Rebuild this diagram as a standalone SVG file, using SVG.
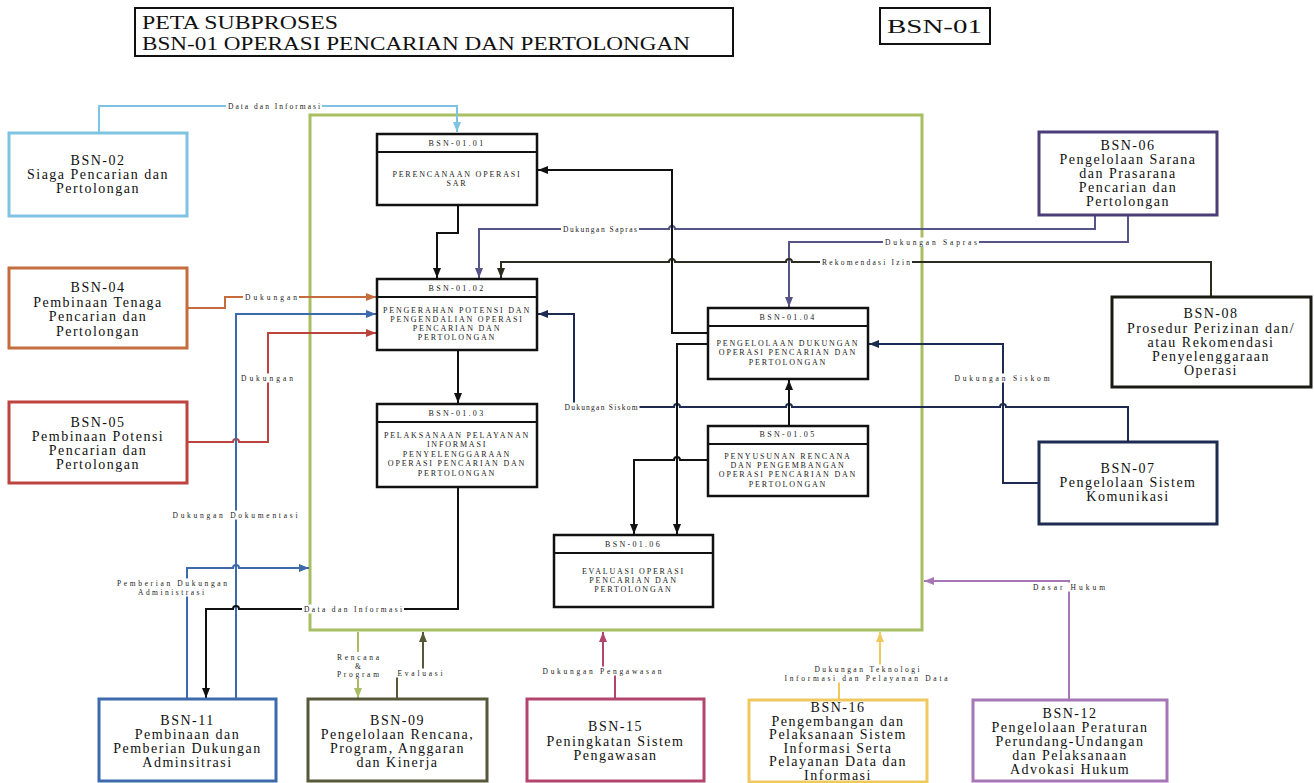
<svg xmlns="http://www.w3.org/2000/svg" width="1314" height="783" viewBox="0 0 1314 783">
<style>
.bg{fill:#fff}
.title{font-family:"Liberation Serif",serif;font-size:18px;fill:#111}
.ext{fill:#fff;stroke-width:3}
.ntx{font-family:"Liberation Serif",serif;font-size:14px;fill:#111;text-anchor:middle;letter-spacing:1.5px}
.in{fill:#fff;stroke:#111;stroke-width:2.5}
.hl{stroke:#111;stroke-width:2}
.itx{font-family:"Liberation Serif",serif;font-size:8px;fill:#222;text-anchor:middle;letter-spacing:1.8px}
.ihd{font-family:"Liberation Serif",serif;font-size:8px;fill:#222;text-anchor:middle;letter-spacing:2.3px}
.c{fill:none;stroke-width:2;stroke-linejoin:miter}
.lb{fill:#fff}
.lbl{font-family:"Liberation Serif",serif;font-size:7.5px;fill:#222;text-anchor:middle}
</style>
<defs>
<marker id="a-black" viewBox="0 0 10 8" refX="10" refY="4" markerWidth="10" markerHeight="8" markerUnits="userSpaceOnUse" orient="auto"><path d="M0,0 L10,4 L0,8 Z" fill="#111"/></marker>
<marker id="a-lblue" viewBox="0 0 10 8" refX="10" refY="4" markerWidth="10" markerHeight="8" markerUnits="userSpaceOnUse" orient="auto"><path d="M0,0 L10,4 L0,8 Z" fill="#7ec3e2"/></marker>
<marker id="a-orange" viewBox="0 0 10 8" refX="10" refY="4" markerWidth="10" markerHeight="8" markerUnits="userSpaceOnUse" orient="auto"><path d="M0,0 L10,4 L0,8 Z" fill="#c46c3e"/></marker>
<marker id="a-red" viewBox="0 0 10 8" refX="10" refY="4" markerWidth="10" markerHeight="8" markerUnits="userSpaceOnUse" orient="auto"><path d="M0,0 L10,4 L0,8 Z" fill="#bc433e"/></marker>
<marker id="a-blue" viewBox="0 0 10 8" refX="10" refY="4" markerWidth="10" markerHeight="8" markerUnits="userSpaceOnUse" orient="auto"><path d="M0,0 L10,4 L0,8 Z" fill="#3d69ad"/></marker>
<marker id="a-lgreen" viewBox="0 0 10 8" refX="10" refY="4" markerWidth="10" markerHeight="8" markerUnits="userSpaceOnUse" orient="auto"><path d="M0,0 L10,4 L0,8 Z" fill="#a7bf62"/></marker>
<marker id="a-olive" viewBox="0 0 10 8" refX="10" refY="4" markerWidth="10" markerHeight="8" markerUnits="userSpaceOnUse" orient="auto"><path d="M0,0 L10,4 L0,8 Z" fill="#57583a"/></marker>
<marker id="a-crimson" viewBox="0 0 10 8" refX="10" refY="4" markerWidth="10" markerHeight="8" markerUnits="userSpaceOnUse" orient="auto"><path d="M0,0 L10,4 L0,8 Z" fill="#b2456d"/></marker>
<marker id="a-yellow" viewBox="0 0 10 8" refX="10" refY="4" markerWidth="10" markerHeight="8" markerUnits="userSpaceOnUse" orient="auto"><path d="M0,0 L10,4 L0,8 Z" fill="#efc95f"/></marker>
<marker id="a-purple" viewBox="0 0 10 8" refX="10" refY="4" markerWidth="10" markerHeight="8" markerUnits="userSpaceOnUse" orient="auto"><path d="M0,0 L10,4 L0,8 Z" fill="#a676b6"/></marker>
<marker id="a-slate" viewBox="0 0 10 8" refX="10" refY="4" markerWidth="10" markerHeight="8" markerUnits="userSpaceOnUse" orient="auto"><path d="M0,0 L10,4 L0,8 Z" fill="#545487"/></marker>
<marker id="a-dark" viewBox="0 0 10 8" refX="10" refY="4" markerWidth="10" markerHeight="8" markerUnits="userSpaceOnUse" orient="auto"><path d="M0,0 L10,4 L0,8 Z" fill="#2b2b1e"/></marker>
<marker id="a-navy" viewBox="0 0 10 8" refX="10" refY="4" markerWidth="10" markerHeight="8" markerUnits="userSpaceOnUse" orient="auto"><path d="M0,0 L10,4 L0,8 Z" fill="#1d2a52"/></marker>
</defs>
<rect class="bg" x="0" y="0" width="1314" height="783"/>

<g id="title">
<rect x="135" y="8" width="598" height="48" fill="#fff" stroke="#111" stroke-width="2"/>
<text class="title" x="142" y="29" textLength="196" lengthAdjust="spacingAndGlyphs">PETA SUBPROSES</text>
<text class="title" x="142" y="50" textLength="548" lengthAdjust="spacingAndGlyphs">BSN-01 OPERASI PENCARIAN DAN PERTOLONGAN</text>
</g>
<g id="code">
<rect x="880" y="8" width="110" height="36" fill="#fff" stroke="#111" stroke-width="2"/>
<text class="title" x="887" y="33" font-size="19" textLength="95" lengthAdjust="spacingAndGlyphs">BSN-01</text>
</g>

<g id="frame">
<rect x="310" y="115" width="612" height="515" fill="none" stroke="#a7bf62" stroke-width="3"/>
</g>

<g id="connectors">
<path class="c" stroke="#7ec3e2" d="M99,133 V106 H457 V132" marker-end="url(#a-lblue)"/>
<path class="c" stroke="#c46c3e" d="M187,308 H225 V297 H376" marker-end="url(#a-orange)"/>
<path class="c" stroke="#bc433e" d="M187,442 H233 a3,3 0 0 1 6,0 H268 V333 H376" marker-end="url(#a-red)"/>
<path class="c" stroke="#3d69ad" d="M236,699 V314 H376" marker-end="url(#a-blue)"/>
<path class="c" stroke="#3d69ad" d="M187,699 V568 H233 a3,3 0 0 1 6,0 H309" marker-end="url(#a-blue)"/>
<path class="c" stroke="#111" d="M458,487 V609 H239 a3,3 0 0 0 -6,0 H206 V698" marker-end="url(#a-black)"/>
<path class="c" stroke="#a7bf62" d="M358,632 V698" marker-end="url(#a-lgreen)"/>
<path class="c" stroke="#57583a" stroke-width="2.5" d="M397,699 V673 H423 V632" marker-end="url(#a-olive)"/>
<path class="c" stroke="#b2456d" d="M615,699 V671 H603 V632" marker-end="url(#a-crimson)"/>
<path class="c" stroke="#efc95f" d="M839,700 V674 H880 V632" marker-end="url(#a-yellow)"/>
<path class="c" stroke="#a676b6" d="M1069,700 V581 H924" marker-end="url(#a-purple)"/>
<path class="c" stroke="#545487" d="M1095,215 V229 H675 a3,3 0 0 0 -6,0 H479 V278" marker-end="url(#a-slate)"/>
<path class="c" stroke="#545487" d="M1128,215 V242 H789 V307" marker-end="url(#a-slate)"/>
<path class="c" stroke="#2b2b1e" d="M1211,297 V262 H792 a3,3 0 0 0 -6,0 H675 a3,3 0 0 0 -6,0 H501 V278" marker-end="url(#a-dark)"/>
<path class="c" stroke="#1d2a52" d="M1128,442 V407 H1006 a3,3 0 0 0 -6,0 H792 a3,3 0 0 0 -6,0 H680 a3,3 0 0 0 -6,0 H574 V314 H538" marker-end="url(#a-navy)"/>
<path class="c" stroke="#1d2a52" d="M1039,483 H1003 V344 H869" marker-end="url(#a-navy)"/>
<path class="c" stroke="#111" d="M458,205 V233 H437 V278" marker-end="url(#a-black)"/>
<path class="c" stroke="#111" d="M458,350 V403" marker-end="url(#a-black)"/>
<path class="c" stroke="#111" d="M708,333 H672 V170 H538" marker-end="url(#a-black)"/>
<path class="c" stroke="#111" d="M708,344 H677 V534" marker-end="url(#a-black)"/>
<path class="c" stroke="#111" d="M708,460 H680 a3,3 0 0 0 -6,0 H634 V534" marker-end="url(#a-black)"/>
<path class="c" stroke="#111" d="M789,426 V380" marker-end="url(#a-black)"/>

<rect class="lb" x="226" y="101.5" width="96" height="9"/>
<rect class="lb" x="243" y="292.5" width="56" height="9"/>
<rect class="lb" x="239" y="373.5" width="56" height="9"/>
<rect class="lb" x="170.5" y="510.5" width="129" height="9"/>
<rect class="lb" x="115" y="578.5" width="114" height="18"/>
<rect class="lb" x="302" y="604.5" width="102" height="9"/>
<rect class="lb" x="335" y="652" width="46" height="27"/>
<rect class="lb" x="395.5" y="668.5" width="49" height="9"/>
<rect class="lb" x="540.5" y="666.5" width="123" height="9"/>
<rect class="lb" x="782.5" y="664.5" width="167" height="18"/>
<rect class="lb" x="1031" y="582.5" width="76" height="9"/>
<rect class="lb" x="561" y="224.5" width="78" height="9"/>
<rect class="lb" x="883" y="237.5" width="96" height="9"/>
<rect class="lb" x="820" y="257.5" width="92" height="9"/>
<rect class="lb" x="562.5" y="402.5" width="77" height="9"/>
<rect class="lb" x="952.5" y="373.5" width="99" height="9"/>

<text class="lbl" x="274" y="108.5" textLength="92" lengthAdjust="spacing">Data dan Informasi</text>
<text class="lbl" x="271" y="299.5" textLength="52" lengthAdjust="spacing">Dukungan</text>
<text class="lbl" x="267" y="380.5" textLength="52" lengthAdjust="spacing">Dukungan</text>
<text class="lbl" x="235" y="517.5" textLength="125" lengthAdjust="spacing">Dukungan Dokumentasi</text>
<text class="lbl" x="172" y="585.5" textLength="110" lengthAdjust="spacing">Pemberian Dukungan</text>
<text class="lbl" x="171" y="594.5" textLength="66" lengthAdjust="spacing">Administrasi</text>
<text class="lbl" x="353" y="611.5" textLength="98" lengthAdjust="spacing">Data dan Informasi</text>
<text class="lbl" x="358" y="659.5" textLength="42" lengthAdjust="spacing">Rencana</text>
<text class="lbl" x="358" y="668.5">&amp;</text>
<text class="lbl" x="358" y="677" textLength="42" lengthAdjust="spacing">Program</text>
<text class="lbl" x="420" y="675.5" textLength="45" lengthAdjust="spacing">Evaluasi</text>
<text class="lbl" x="602" y="673.5" textLength="119" lengthAdjust="spacing">Dukungan Pengawasan</text>
<text class="lbl" x="867" y="671.5" textLength="105" lengthAdjust="spacing">Dukungan Teknologi</text>
<text class="lbl" x="866" y="680.5" textLength="163" lengthAdjust="spacing">Informasi dan Pelayanan Data</text>
<text class="lbl" x="1069" y="589.5" textLength="72" lengthAdjust="spacing">Dasar Hukum</text>
<text class="lbl" x="600" y="231.5" textLength="74" lengthAdjust="spacing">Dukungan Sapras</text>
<text class="lbl" x="931" y="244.5" textLength="92" lengthAdjust="spacing">Dukungan Sapras</text>
<text class="lbl" x="866" y="264.5" textLength="88" lengthAdjust="spacing">Rekomendasi Izin</text>
<text class="lbl" x="601" y="409.5" textLength="73" lengthAdjust="spacing">Dukungan Siskom</text>
<text class="lbl" x="1002" y="380.5" textLength="95" lengthAdjust="spacing">Dukungan Siskom</text>
</g>

<g id="BSN-02">
<rect class="ext" x="9" y="133" width="178" height="83" stroke="#7ec3e2"/>
<text class="ntx" x="98" y="165">BSN-02</text>
<text class="ntx" x="98" y="179">Siaga Pencarian dan</text>
<text class="ntx" x="98" y="193">Pertolongan</text>
</g>
<g id="BSN-04">
<rect class="ext" x="9" y="268" width="178" height="80" stroke="#c46c3e"/>
<text class="ntx" x="98" y="292">BSN-04</text>
<text class="ntx" x="98" y="307">Pembinaan Tenaga</text>
<text class="ntx" x="98" y="321">Pencarian dan</text>
<text class="ntx" x="98" y="336">Pertolongan</text>
</g>
<g id="BSN-05">
<rect class="ext" x="9" y="402" width="178" height="81" stroke="#bc433e"/>
<text class="ntx" x="98" y="427">BSN-05</text>
<text class="ntx" x="98" y="441">Pembinaan Potensi</text>
<text class="ntx" x="98" y="455">Pencarian dan</text>
<text class="ntx" x="98" y="469">Pertolongan</text>
</g>
<g id="BSN-11">
<rect class="ext" x="99" y="699" width="177" height="82" stroke="#3d69ad"/>
<text class="ntx" x="187.5" y="725">BSN-11</text>
<text class="ntx" x="187.5" y="739">Pembinaan dan</text>
<text class="ntx" x="187.5" y="753">Pemberian Dukungan</text>
<text class="ntx" x="187.5" y="767">Adminsitrasi</text>
</g>
<g id="BSN-09">
<rect class="ext" x="308" y="699" width="179" height="82" stroke="#57583a" stroke-width="3.5"/>
<text class="ntx" x="397.5" y="725">BSN-09</text>
<text class="ntx" x="397.5" y="739">Pengelolaan Rencana,</text>
<text class="ntx" x="397.5" y="753">Program, Anggaran</text>
<text class="ntx" x="397.5" y="767">dan Kinerja</text>
</g>
<g id="BSN-15">
<rect class="ext" x="527" y="699" width="177" height="82" stroke="#b2456d"/>
<text class="ntx" x="615.5" y="731">BSN-15</text>
<text class="ntx" x="615.5" y="746">Peningkatan Sistem</text>
<text class="ntx" x="615.5" y="760">Pengawasan</text>
</g>
<g id="BSN-16">
<rect class="ext" x="749" y="700" width="178" height="82" stroke="#efc95f"/>
<text class="ntx" x="838" y="712" font-size="13">BSN-16</text>
<text class="ntx" x="838" y="725.5" font-size="13">Pengembangan dan</text>
<text class="ntx" x="838" y="739" font-size="13">Pelaksanaan Sistem</text>
<text class="ntx" x="838" y="752.5" font-size="13">Informasi Serta</text>
<text class="ntx" x="838" y="766" font-size="13">Pelayanan Data dan</text>
<text class="ntx" x="838" y="779.5" font-size="13">Informasi</text>
</g>
<g id="BSN-12">
<rect class="ext" x="973" y="700" width="194" height="81" stroke="#a676b6"/>
<text class="ntx" x="1070" y="718">BSN-12</text>
<text class="ntx" x="1070" y="732">Pengelolaan Peraturan</text>
<text class="ntx" x="1070" y="746">Perundang-Undangan</text>
<text class="ntx" x="1070" y="760">dan Pelaksanaan</text>
<text class="ntx" x="1070" y="774">Advokasi Hukum</text>
</g>
<g id="BSN-06">
<rect class="ext" x="1039" y="132" width="178" height="83" stroke="#4b3d78"/>
<text class="ntx" x="1128" y="150">BSN-06</text>
<text class="ntx" x="1128" y="164">Pengelolaan Sarana</text>
<text class="ntx" x="1128" y="178">dan Prasarana</text>
<text class="ntx" x="1128" y="192">Pencarian dan</text>
<text class="ntx" x="1128" y="206">Pertolongan</text>
</g>
<g id="BSN-08">
<rect class="ext" x="1112" y="297" width="199" height="90" stroke="#1a1a12" stroke-width="3.5"/>
<text class="ntx" x="1211" y="318">BSN-08</text>
<text class="ntx" x="1211" y="333">Prosedur Perizinan dan/</text>
<text class="ntx" x="1211" y="347">atau Rekomendasi</text>
<text class="ntx" x="1211" y="361">Penyelenggaraan</text>
<text class="ntx" x="1211" y="375">Operasi</text>
</g>
<g id="BSN-07">
<rect class="ext" x="1039" y="442" width="178" height="82" stroke="#1d2a52"/>
<text class="ntx" x="1128" y="473">BSN-07</text>
<text class="ntx" x="1128" y="487">Pengelolaan Sistem</text>
<text class="ntx" x="1128" y="501">Komunikasi</text>
</g>

<g id="BSN-01.01">
<rect class="in" x="377" y="134" width="160" height="71"/>
<line class="hl" x1="377" y1="152" x2="537" y2="152"/>
<text class="ihd" x="457" y="146">BSN-01.01</text>
<text class="itx" x="457" y="176.5">PERENCANAAN OPERASI</text>
<text class="itx" x="457" y="185.5">SAR</text>
</g>
<g id="BSN-01.02">
<rect class="in" x="377" y="279" width="160" height="71"/>
<line class="hl" x1="377" y1="297" x2="537" y2="297"/>
<text class="ihd" x="457" y="291">BSN-01.02</text>
<text class="itx" x="457" y="313">PENGERAHAN POTENSI DAN</text>
<text class="itx" x="457" y="322">PENGENDALIAN OPERASI</text>
<text class="itx" x="457" y="331">PENCARIAN DAN</text>
<text class="itx" x="457" y="340">PERTOLONGAN</text>
</g>
<g id="BSN-01.03">
<rect class="in" x="377" y="404" width="160" height="83"/>
<line class="hl" x1="377" y1="422" x2="537" y2="422"/>
<text class="ihd" x="457" y="416">BSN-01.03</text>
<text class="itx" x="457" y="438">PELAKSANAAN PELAYANAN</text>
<text class="itx" x="457" y="447">INFORMASI</text>
<text class="itx" x="457" y="456.5">PENYELENGGARAAN</text>
<text class="itx" x="457" y="466">OPERASI PENCARIAN DAN</text>
<text class="itx" x="457" y="475.5">PERTOLONGAN</text>
</g>
<g id="BSN-01.04">
<rect class="in" x="708" y="308" width="160" height="71"/>
<line class="hl" x1="708" y1="326" x2="868" y2="326"/>
<text class="ihd" x="788" y="320">BSN-01.04</text>
<text class="itx" x="788" y="346">PENGELOLAAN DUKUNGAN</text>
<text class="itx" x="788" y="355">OPERASI PENCARIAN DAN</text>
<text class="itx" x="788" y="364.5">PERTOLONGAN</text>
</g>
<g id="BSN-01.05">
<rect class="in" x="708" y="426" width="160" height="70"/>
<line class="hl" x1="708" y1="444" x2="868" y2="444"/>
<text class="ihd" x="788" y="437">BSN-01.05</text>
<text class="itx" x="788" y="459">PENYUSUNAN RENCANA</text>
<text class="itx" x="788" y="468">DAN PENGEMBANGAN</text>
<text class="itx" x="788" y="477">OPERASI PENCARIAN DAN</text>
<text class="itx" x="788" y="486.5">PERTOLONGAN</text>
</g>
<g id="BSN-01.06">
<rect class="in" x="554" y="535" width="159" height="72"/>
<line class="hl" x1="554" y1="553" x2="713" y2="553"/>
<text class="ihd" x="633.5" y="547">BSN-01.06</text>
<text class="itx" x="633.5" y="573.5">EVALUASI OPERASI</text>
<text class="itx" x="633.5" y="582.5">PENCARIAN DAN</text>
<text class="itx" x="633.5" y="591.5">PERTOLONGAN</text>
</g>
</svg>
